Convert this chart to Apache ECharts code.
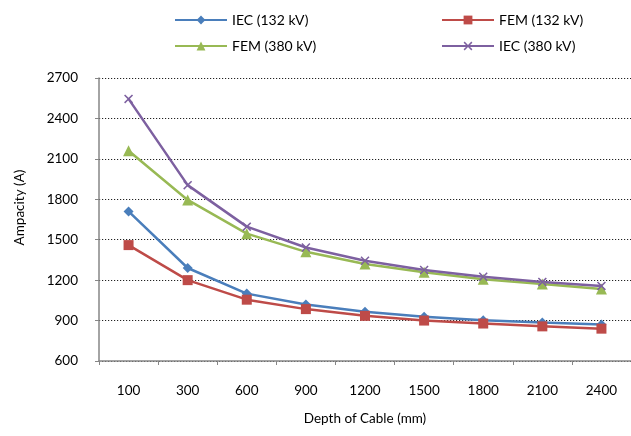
<!DOCTYPE html>
<html>
<head>
<meta charset="utf-8">
<script src="https://cdn.jsdelivr.net/npm/echarts@6/dist/echarts.min.js"></script>
<style>html,body{margin:0;padding:0;background:#fff}#c{width:631px;height:436px}</style>
</head>
<body>
<div id="c"></div>
<script>
const categories = ['100','300','600','900','1200','1500','1800','2100','2400'];
const iec132 = [1710, 1290, 1100, 1020, 965, 928, 903, 885, 870];
const fem132 = [1460, 1200, 1055, 985, 935, 900, 878, 857, 840];
const fem380 = [2160, 1795, 1545, 1410, 1320, 1258, 1207, 1172, 1135];
const iec380 = [2545, 1905, 1597, 1442, 1344, 1275, 1225, 1187, 1157];
const yTicks = [600, 900, 1200, 1500, 1800, 2100, 2400, 2700];

const FONT = 'Lato';
const FS = 13.5;
const xPath = 'path://M0,1.2 L1.2,0 L5,3.8 L8.8,0 L10,1.2 L6.2,5 L10,8.8 L8.8,10 L5,6.2 L1.2,10 L0,8.8 L3.8,5 Z';

const chart = echarts.init(document.getElementById('c'), null, {renderer: 'canvas'});
function mkLegend(name, left, top) {
  return {
    data: [name], left: left, top: top, itemWidth: 52, itemHeight: 11, itemGap: 0,
    textStyle: {fontFamily: FONT, fontSize: 14, color: '#000'},
    padding: 0
  };
}
function mkSeries(name, data, color, symbol, size) {
  return {
    name: name, type: 'line', data: data, symbol: symbol, symbolSize: size,
    showAllSymbol: true,
    lineStyle: {color: color, width: 2.5},
    itemStyle: {color: color, borderWidth: 0},
    animation: false
  };
}
chart.setOption({
  animation: false,
  backgroundColor: '#fff',
  textStyle: {fontFamily: FONT},
  legend: [
    mkLegend('IEC (132 kV)', 174, 13),
    mkLegend('FEM (132 kV)', 441, 13),
    mkLegend('FEM (380 kV)', 174, 39),
    mkLegend('IEC (380 kV)', 441, 39)
  ],
  grid: {left: 99, top: 78, width: 542, height: 283},
  xAxis: {
    type: 'category', data: categories, boundaryGap: true,
    name: 'Depth of Cable (mm)', nameLocation: 'middle', nameGap: 51,
    nameTextStyle: {fontFamily: FONT, fontSize: FS, color: '#000'},
    axisLine: {lineStyle: {color: '#868686', width: 1.5}},
    axisTick: {show: true, length: 4, lineStyle: {color: '#868686', width: 1}},
    axisLabel: {fontFamily: FONT, fontSize: FS, color: '#000', margin: 23},
    splitLine: {show: false}
  },
  yAxis: {
    type: 'value', min: 600, max: 2700, interval: 300,
    name: 'Ampacity (A)', nameLocation: 'middle', nameGap: 72,
    nameTextStyle: {fontFamily: FONT, fontSize: FS, color: '#000', padding: [0, 0, 0, 24]},
    axisLine: {show: true, lineStyle: {color: '#868686', width: 1.5}},
    axisTick: {show: true, length: 4, lineStyle: {color: '#868686', width: 1}},
    axisLabel: {fontFamily: FONT, fontSize: FS, color: '#000', margin: 21,
      formatter: function (v) { return yTicks.indexOf(v) >= 0 ? String(v) : ''; }},
    splitLine: {show: true, lineStyle: {color: '#222', width: 1, type: [1.2, 1.8]}}
  },
  series: [
    mkSeries('IEC (132 kV)', iec132, '#4A7EBB', 'diamond', 10),
    mkSeries('FEM (132 kV)', fem132, '#BE4B48', 'rect', 10),
    mkSeries('FEM (380 kV)', fem380, '#98B954', 'triangle', 11),
    mkSeries('IEC (380 kV)', iec380, '#7D60A0', xPath, 9)
  ]
});
</script>
</body>
</html>
